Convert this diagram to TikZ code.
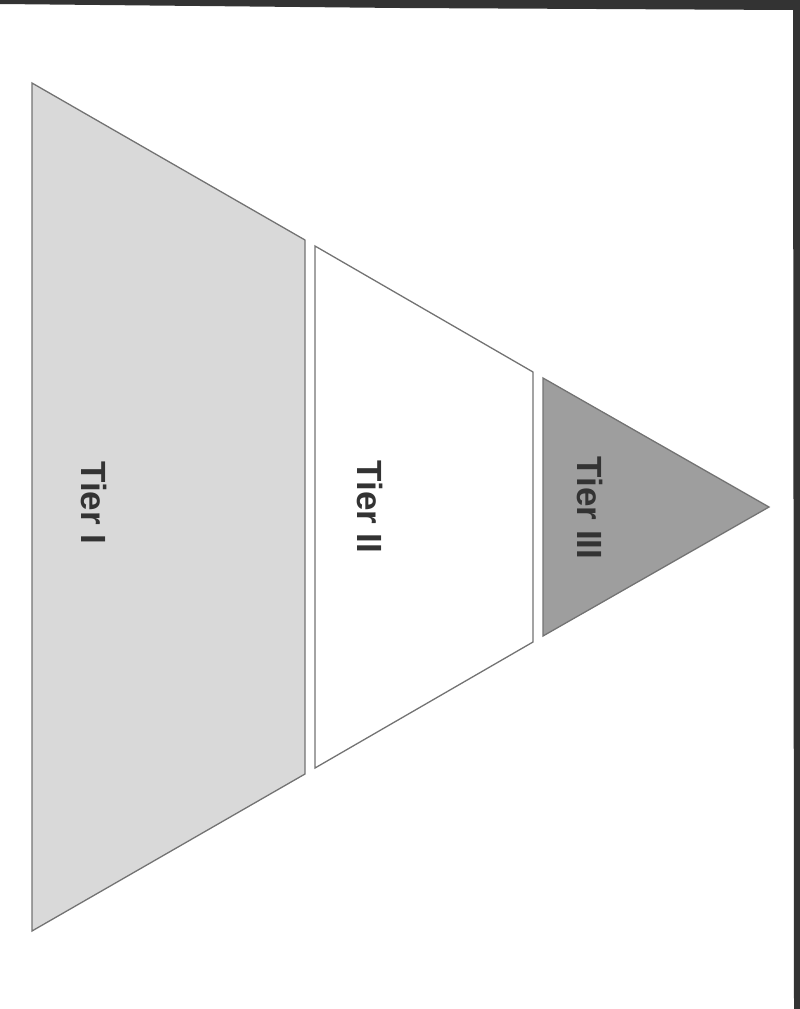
\documentclass[tikz,border=0pt]{standalone}
\usepackage{fontspec}
\setmainfont{Liberation Sans}
\begin{document}
\begin{tikzpicture}[x=1pt,y=-1pt,
  tierline/.style={draw=black!55,line width=1.3pt,line join=miter},
  tierlabel/.style={rotate=-90,text=black!80,font=\fontsize{35}{40}\selectfont\bfseries,inner sep=0pt},
  scanedge/.style={fill=black!80,draw=none}]
\useasboundingbox (0,0) rectangle (800,1009);
% scan edges
\fill[scanedge] (0,0) -- (800,0) -- (800,1009) -- (794,1009) -- (793,10) -- (400,8) -- (0,4) -- cycle;
% Tier I
\draw[tierline,fill=black!15] (32,83) -- (305,240) -- (305,774) -- (32,931) -- cycle;
% Tier II
\draw[tierline,fill=white] (315,246) -- (533,372) -- (533,642) -- (315,768) -- cycle;
% Tier III
\draw[tierline,fill=black!38] (543,378) -- (769,507) -- (543,636) -- cycle;
\node[tierlabel] (t1) at (94,503) {Tier I};
\node[tierlabel] (t2) at (370,507) {Tier II};
\node[tierlabel] (t3) at (590,508) {Tier III};
\end{tikzpicture}
\end{document}
